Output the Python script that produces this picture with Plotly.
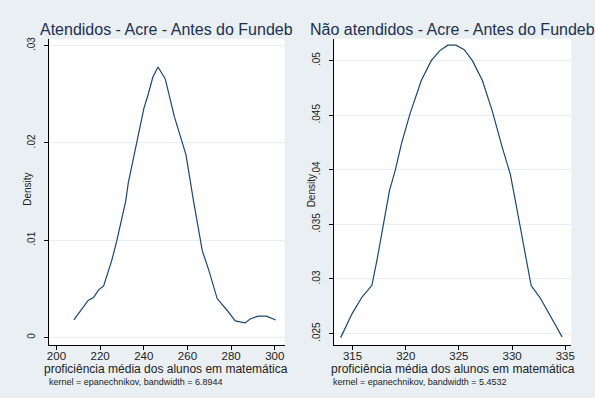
import plotly.graph_objects as go

# ---- data ----
left_x = [208.0, 214.5, 217.0, 219.3, 221.6, 225.3, 227.6, 231.7, 232.9, 237.1, 240.1, 241.9,
          244.2, 246.5, 249.8, 254.0, 257.0, 259.3, 262.8, 266.8, 269.8, 273.6, 278.1, 281.9,
          286.4, 288.7, 292.4, 296.2, 300.4]
left_y = [0.0018, 0.0038, 0.0041, 0.0049, 0.0053, 0.0079, 0.0099, 0.0140, 0.0159, 0.0202, 0.0236,
          0.0249, 0.0268, 0.0278, 0.0266, 0.0227, 0.0205, 0.0188, 0.0140, 0.0089, 0.0069, 0.0040,
          0.0028, 0.0017, 0.0015, 0.0019, 0.0022, 0.0022, 0.0018]

right_x = [313.88, 314.96, 315.89, 316.82, 317.29, 317.9, 318.47, 319.0, 319.6, 320.39, 321.47,
           322.4, 323.18, 323.95, 324.72, 325.5, 326.27, 327.2, 328.13, 329.06, 329.83, 330.3,
           330.92, 331.79, 332.62, 333.55, 334.17, 334.7]
right_y = [0.02463, 0.02683, 0.02835, 0.02942, 0.0317, 0.0350, 0.0381, 0.0399, 0.0424, 0.0451,
           0.0482, 0.0500, 0.0509, 0.05142, 0.05142, 0.0510, 0.0500, 0.0482, 0.0454, 0.0421,
           0.0396, 0.0372, 0.0338, 0.0294, 0.0283, 0.0267, 0.0255, 0.0247]

left_xticks = [200, 220, 240, 260, 280, 300]
left_yticks = [0, 0.01, 0.02, 0.03]
left_yticklabels = ["0", ".01", ".02", ".03"]
right_xticks = [315, 320, 325, 330, 335]
right_yticks = [0.025, 0.03, 0.035, 0.04, 0.045, 0.05]
right_yticklabels = [".025", ".03", ".035", ".04", ".045", ".05"]

titles = ["Atendidos - Acre - Antes do Fundeb", "Não atendidos - Acre - Antes do Fundeb"]
xtitle = "proficiência média dos alunos em matemática"
notes = ["kernel = epanechnikov, bandwidth = 6.8944", "kernel = epanechnikov, bandwidth = 5.4532"]
ytitle = "Density"

# ---- figure ----
W, H = 595, 398
def px(x):
    return x / W
def py(y):
    return 1 - y / H

LINE = "#1a476f"
BG = "#e9eff2"
GRID = "#e6eff2"
FONT = "Liberation Sans, Arial, sans-serif"

fig = go.Figure()
fig.add_trace(go.Scatter(x=left_x, y=left_y, mode="lines", line=dict(color=LINE, width=1.2),
                         xaxis="x", yaxis="y", showlegend=False))
fig.add_trace(go.Scatter(x=right_x, y=right_y, mode="lines", line=dict(color=LINE, width=1.2),
                         xaxis="x2", yaxis="y2", showlegend=False))

ydom = [py(345), py(37)]
common_x = dict(showline=True, linecolor="black", linewidth=1, ticks="outside", ticklen=4,
                tickcolor="black", showgrid=False, zeroline=False, ticklabelstandoff=-4,
                tickfont=dict(family=FONT, size=11.5, color="#222"))
common_y = dict(showline=True, linecolor="black", linewidth=1, ticks="outside", ticklen=4,
                tickcolor="black", showgrid=True, gridcolor=GRID, gridwidth=1, zeroline=False,
                tickangle=-90, ticklabelstandoff=5,
                tickfont=dict(family=FONT, size=10, color="#222"))

fig.update_layout(
    width=W, height=H, margin=dict(l=0, r=0, t=0, b=0),
    paper_bgcolor=BG, plot_bgcolor="white",
    xaxis=dict(domain=[px(47), px(285)], range=[196.8, 304.5], tickvals=left_xticks,
               anchor="y", **common_x),
    yaxis=dict(domain=ydom, range=[-0.0008, 0.0307], tickvals=left_yticks,
               ticktext=left_yticklabels, anchor="x", **common_y),
    xaxis2=dict(domain=[px(335), px(575)], range=[313.26, 335.56], tickvals=right_xticks,
                anchor="y2", **common_x),
    yaxis2=dict(domain=ydom, range=[0.02393, 0.0520], tickvals=right_yticks,
                ticktext=right_yticklabels, anchor="x2", **common_y),
)

ann = []
for cx, t in zip([165.5, 455], titles):
    ann.append(dict(x=px(cx), y=py(27.5), xref="paper", yref="paper", text=t, showarrow=False,
                    xanchor="center", yanchor="middle",
                    font=dict(family=FONT, size=16, color="#1e3050")))
for cx in [165, 455]:
    ann.append(dict(x=px(cx), y=py(368.5), xref="paper", yref="paper", text=xtitle, showarrow=False,
                    xanchor="center", yanchor="middle",
                    font=dict(family=FONT, size=12, color="#222")))
for lx, t in zip([45, 332], notes):
    ann.append(dict(x=px(lx), y=py(382), xref="paper", yref="paper", text=t, showarrow=False,
                    xanchor="left", yanchor="middle",
                    font=dict(family=FONT, size=9, color="#222")))
for cx, cy in [(24, 188), (312, 190)]:
    ann.append(dict(x=px(cx), y=py(cy), xref="paper", yref="paper", text=ytitle, showarrow=False,
                    xanchor="center", yanchor="middle", textangle=-90,
                    font=dict(family=FONT, size=10, color="#222")))
fig.update_layout(annotations=ann)

fig.write_html("out.html", config={"displayModeBar": False},
               post_script="document.body.style.margin='0px';document.body.style.overflow='hidden';")
